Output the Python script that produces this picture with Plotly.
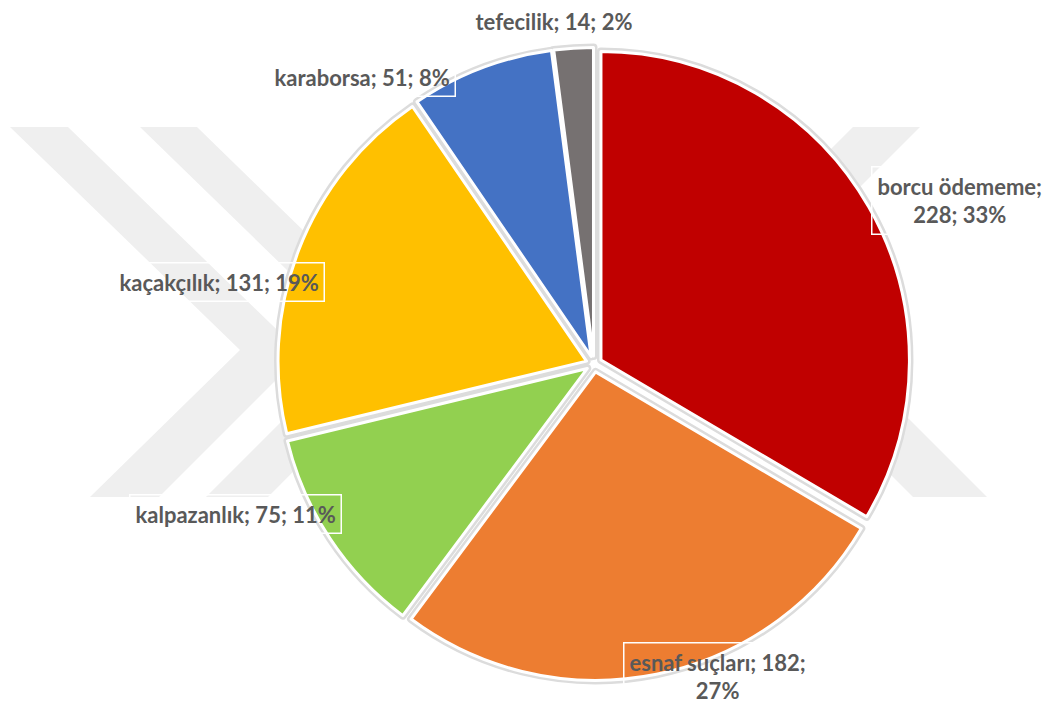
import plotly.graph_objects as go

W, H = 1052, 704
OFF = 8  # page body margin offset of the plot div

labels = ["borcu ödememe", "esnaf suçları", "kalpazanlık", "kaçakçılık", "karaborsa", "tefecilik"]
values = [228, 182, 75, 131, 51, 14]
percent_labels = ["33%", "27%", "11%", "19%", "8%", "2%"]
colors = ["#C00000", "#ED7D31", "#92D050", "#FFC000", "#4472C4", "#767171"]

# label text layout (line breaks as in the reference) and label centres in pixels
label_templates = ["{l};<br>{v}; {p}", "{l}; {v};<br>{p}", "{l}; {v}; {p}",
                   "{l}; {v}; {p}", "{l}; {v}; {p}", "{l}; {v}; {p}"]
label_pos_px = [(960, 200), (717, 676), (235, 514), (219, 282), (362, 77), (554, 21)]


def px(x):
    return (x - OFF) / W


def py(y):
    return 1 - (y - OFF) / H


pull = 0.026
dom_x = [px(277.5), px(910.5)]
dom_y = [py(680.5), py(47.5)]

fig = go.Figure()

# soft shadow behind slices
fig.add_trace(go.Pie(
    labels=labels, values=values, sort=False, direction="clockwise", rotation=0,
    pull=pull, domain=dict(x=dom_x, y=dom_y),
    marker=dict(colors=["#d6d6d6"] * len(values), line=dict(color="#dcdcdc", width=8)),
    textinfo="none", hoverinfo="skip", showlegend=False,
))

fig.add_trace(go.Pie(
    labels=labels, values=values, sort=False, direction="clockwise", rotation=0,
    pull=pull, domain=dict(x=dom_x, y=dom_y),
    marker=dict(colors=colors, line=dict(color="white", width=3)),
    textinfo="none", showlegend=False,
))

# watermark chevrons (light grey, behind chart)
def poly(pts):
    d = "M " + " L ".join(f"{px(x):.5f},{py(y):.5f}" for x, y in pts) + " Z"
    return dict(type="path", path=d, xref="paper", yref="paper",
                fillcolor="#efefef", line=dict(width=0), layer="below")


shapes = [
    poly([(10, 127), (68, 127), (302, 354), (159, 497), (90, 497), (240, 350)]),
    poly([(140, 127), (197, 127), (420, 344), (268, 497), (206, 497), (361, 342)]),
    poly([(853, 127), (920, 127), (768.5, 278.5), (987, 497), (913, 497), (698, 282)]),
]

annotations = []
for lab, v, p, tpl, (x, y) in zip(labels, values, percent_labels, label_templates, label_pos_px):
    annotations.append(dict(
        x=px(x), y=py(y), xref="paper", yref="paper", xanchor="center", yanchor="middle",
        text="<b>" + tpl.format(l=lab, v=v, p=p) + "</b>", showarrow=False,
        font=dict(family="Lato", size=22, color="#595959"),
        bordercolor="white", borderwidth=1.5, borderpad=5,
    ))

fig.update_layout(
    width=W, height=H, margin=dict(l=0, r=0, t=0, b=0),
    paper_bgcolor="white", plot_bgcolor="white",
    shapes=shapes, annotations=annotations, showlegend=False,
)

fig.write_html("out.html")
